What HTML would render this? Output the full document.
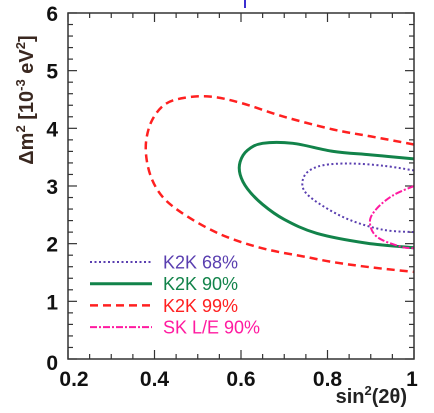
<!DOCTYPE html>
<html><head><meta charset="utf-8"><style>
html,body{margin:0;padding:0;background:#fff;}
svg{display:block;font-family:"Liberation Sans",sans-serif;}
</style></head><body>
<svg id="chart" width="434" height="413" viewBox="0 0 434 413">
<defs><clipPath id="pc"><rect x="68" y="13" width="346" height="346"/></clipPath></defs>
<line x1="245" y1="0" x2="245" y2="8" stroke="#3b2fd0" stroke-width="2"/>
<g id="ticks"></g>
<g id="curves" clip-path="url(#pc)"></g>
<rect x="68" y="13" width="346" height="346" fill="none" stroke="#333" stroke-width="1.5"/>
<g id="labels"></g>
<text transform="translate(33,100) rotate(-90)" text-anchor="middle" font-size="20" font-weight="bold" fill="#3a2820">Δm<tspan font-size="13" dy="-8">2</tspan><tspan dy="8"> [10</tspan><tspan font-size="13" dy="-8">-3</tspan><tspan dy="8"> eV</tspan><tspan font-size="13" dy="-8">2</tspan><tspan dy="8">]</tspan></text>
<text x="407" y="403" text-anchor="end" font-size="20" font-weight="bold" fill="#222">sin<tspan font-size="13" dy="-8">2</tspan><tspan dy="8">(2θ)</tspan></text>
<g id="legend"></g>
</svg>
<script>
const xTicks=[0.2,0.4,0.6,0.8,1];
const xTickLabels=["0.2","0.4","0.6","0.8","1"];
const yTicks=[0,1,2,3,4,5,6];
const yTickLabels=["0","1","2","3","4","5","6"];
const seriesNames=["K2K 68%","K2K 90%","K2K 99%","SK L/E 90%"];
const k2k68X=[1.0,0.93,0.852,0.79,0.755,0.742,0.75,0.79,0.852,0.929,1.0];
const k2k68Y=[3.27,3.35,3.39,3.36,3.25,3.07,2.88,2.65,2.41,2.24,2.2];
const k2k90X=[1.0,0.9,0.813,0.72,0.65,0.615,0.598,0.598,0.615,0.65,0.70,0.775,0.89,1.0];
const k2k90Y=[3.47,3.54,3.6,3.74,3.74,3.62,3.42,3.2,2.95,2.68,2.42,2.18,2.01,1.93];
const k2k99X=[1.0,0.9,0.813,0.70,0.60,0.53,0.47,0.425,0.395,0.381,0.382,0.395,0.42,0.46,0.52,0.58,0.66,0.75,0.813,0.9,1.0];
const k2k99Y=[3.72,3.86,3.98,4.2,4.44,4.55,4.53,4.42,4.15,3.8,3.45,3.1,2.8,2.55,2.28,2.08,1.9,1.77,1.68,1.59,1.51];
const skX=[1.0,0.952,0.914,0.898,0.914,0.968,1.0];
const skY=[3.0,2.84,2.61,2.38,2.12,1.95,1.92];
const NS="http://www.w3.org/2000/svg";
const X=v=>68+(v-0.2)*432.5, Y=v=>359-v*57.67;
function mk(t,a,p){const e=document.createElementNS(NS,t);for(const k in a)e.setAttribute(k,a[k]);p.appendChild(e);return e;}
const tg=document.getElementById('ticks');
for(let i=0;i<=16;i++){const v=0.2+i*0.05,x=X(v),L=(i%4==0)?9:5;
 const a=mk('line',{x1:x,y1:359,x2:x,y2:359-L,stroke:'#333','stroke-width':1.2},tg);
 const b=mk('line',{x1:x,y1:13,x2:x,y2:13+L,stroke:'#333','stroke-width':1.2},tg);}
for(let i=0;i<=30;i++){const v=i*0.2,y=Y(v),L=(i%5==0)?9:5;
 const a=mk('line',{x1:68,y1:y,x2:68+L,y2:y,stroke:'#333','stroke-width':1.2},tg);
 const b=mk('line',{x1:414,y1:y,x2:414-L,y2:y,stroke:'#333','stroke-width':1.2},tg);}
const lg=document.getElementById('labels');
xTicks.forEach((v,i)=>{const t=mk('text',{x:X(v)+(i==0?6:i==4?-2:0),y:386,'text-anchor':'middle','font-size':21,'font-weight':'bold',fill:'#111'},lg);t.textContent=xTickLabels[i];});
yTicks.forEach((v,i)=>{const t=mk('text',{x:58,y:Y(v)+8+(i==0?3:0),'text-anchor':'end','font-size':21,'font-weight':'bold',fill:'#111'},lg);t.textContent=yTickLabels[i];});
function path(xs,ys){const p=xs.map((x,i)=>[X(x),Y(ys[i])]);let d='M'+p[0][0]+','+p[0][1];
 for(let i=0;i<p.length-1;i++){const p0=p[Math.max(0,i-1)],p1=p[i],p2=p[i+1],p3=p[Math.min(p.length-1,i+2)];
  d+=' C'+(p1[0]+(p2[0]-p0[0])/6)+','+(p1[1]+(p2[1]-p0[1])/6)+' '+(p2[0]-(p3[0]-p1[0])/6)+','+(p2[1]-(p3[1]-p1[1])/6)+' '+p2[0]+','+p2[1];}
 return d;}
const styles=[{c:'#5a3fb0',w:2,da:'2,2.5'},{c:'#12834a',w:3,da:''},{c:'#ff2020',w:2.5,da:'8,5'},{c:'#ff1aa0',w:2,da:'7,2,2,2'}];
const data=[[k2k68X,k2k68Y],[k2k90X,k2k90Y],[k2k99X,k2k99Y],[skX,skY]];
const names=['contour-k2k-68','contour-k2k-90','contour-k2k-99','contour-sk-le-90'];
const cg=document.getElementById('curves');
data.forEach((d,i)=>{const s=styles[i];const e=mk('path',{d:path(d[0],d[1]),fill:'none',stroke:s.c,'stroke-width':s.w,'stroke-dasharray':s.da},cg);
 });
const lgg=document.getElementById('legend');
seriesNames.forEach((n,i)=>{const y=262+i*21.7,s=styles[i];
 const l=mk('line',{x1:90,y1:y,x2:152,y2:y,stroke:s.c,'stroke-width':s.w,'stroke-dasharray':s.da},lgg);
 const t=mk('text',{x:163,y:y+6.5,'font-size':18,fill:s.c},lgg);t.textContent=n;});
</script>
</body></html>
